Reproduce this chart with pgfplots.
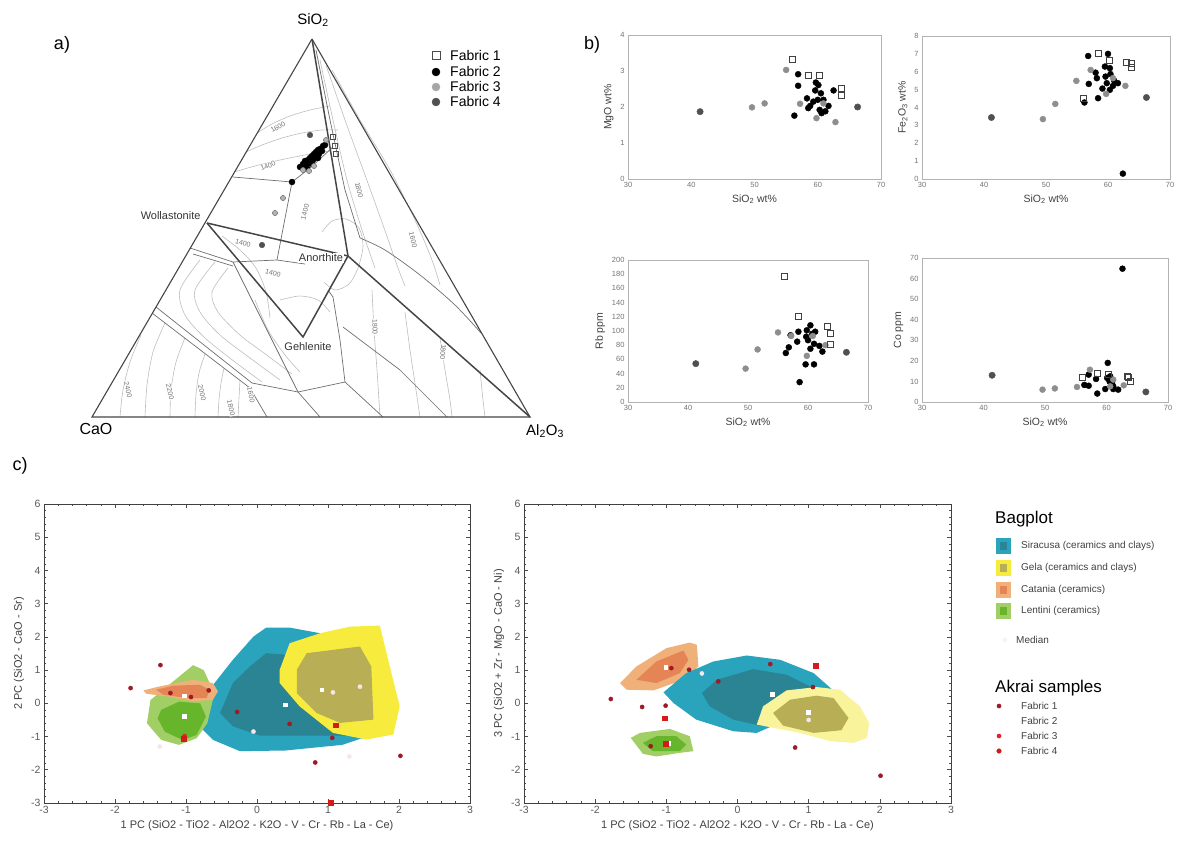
\documentclass[border=0pt]{standalone}
\usepackage{fontspec}
\setmainfont{Liberation Sans}
\usepackage{pgfplots}
\pgfplotsset{compat=1.18}
\definecolor{sirO}{HTML}{2AA3BD}
\definecolor{sirI}{HTML}{2B8494}
\definecolor{gelO}{HTML}{F7EC3E}
\definecolor{gelI}{HTML}{B8AE55}
\definecolor{gelO2}{HTML}{F9F39C}
\definecolor{catO}{HTML}{F0B07A}
\definecolor{catI}{HTML}{E58556}
\definecolor{lenO}{HTML}{A2CE66}
\definecolor{lenI}{HTML}{66B52B}
\definecolor{fabA}{HTML}{9E1B26}
\definecolor{fabC}{HTML}{E3202C}
\definecolor{fabD}{HTML}{D41A1A}
\definecolor{fabB}{HTML}{F6E6E6}
\definecolor{iso}{HTML}{BDBDBD}
\definecolor{bnd}{HTML}{6E6E6E}
\definecolor{thk}{HTML}{454545}
\definecolor{gthree}{HTML}{8E8E8E}
\definecolor{gfour}{HTML}{505050}
\newcommand{\fs}[1]{\fontsize{#1}{#1}\selectfont}
\pgfplotsset{
  bstyle/.style={scale only axis, xmin=30, xmax=70, xtick={30,40,50,60,70},
    axis line style={draw=black!30, line width=0.8pt}, tick style={draw=none},
    tick label style={font=\fs{7.5}, text=black!55},
    label style={font=\fs{10.5}, text=black!75},
    xlabel={SiO\textsubscript{2} wt\%},
    /pgf/number format/assume math mode=true, clip=false},
  cstyle/.style={scale only axis, xmin=-3, xmax=3, ymin=-3, ymax=6,
    xtick={-3,...,3}, ytick={-3,...,6},
    xticklabels={-3,-2,-1,0,1,2,3}, yticklabels={-3,-2,-1,0,1,2,3,4,5,6},
    minor x tick num=4, minor y tick num=4, tick align=inside,
    major tick length=4pt, minor tick length=2pt,
    axis line style={draw=black!75, line width=0.8pt},
    tick style={draw=black!70, line width=0.6pt},
    tick label style={font=\fs{10.5}, text=black!65},
    label style={font=\fs{11}, text=black!75},
    xlabel={1 PC (SiO2 - TiO2 - Al2O2 - K2O - V - Cr - Rb - La - Ce)},
    clip=false},
  fone/.style={only marks, mark=square, mark size=3pt, mark options={draw=black!75, fill=white, line width=0.7pt}},
  ftwo/.style={only marks, mark=*, mark size=3pt, mark options={draw=black, fill=black}},
  fthree/.style={only marks, mark=*, mark size=3pt, mark options={draw=gthree, fill=gthree}},
  ffour/.style={only marks, mark=*, mark size=3.2pt, mark options={draw=gfour, fill=gfour}},
  rA/.style={only marks, mark=*, mark size=2.1pt, mark options={draw=fabA, fill=fabA}},
  rB/.style={only marks, mark=*, mark size=2.1pt, mark options={draw=fabB, fill=fabB}},
  rD/.style={only marks, mark=square*, mark size=2.4pt, mark options={draw=fabD, fill=fabD}},
  med/.style={only marks, mark=square*, mark size=1.9pt, mark options={draw=white, fill=white}},
}
\begin{document}
\begin{tikzpicture}
\path[use as bounding box] (0,0) rectangle (1179pt,847pt);
% ================= canvas axis: panel a and legend of c =================
\begin{axis}[at={(0pt,0pt)}, anchor=south west, width=1179pt, height=847pt,
  scale only axis, xmin=0, xmax=1179, ymin=0, ymax=847, y dir=reverse,
  hide axis, clip=false]
% isotherms
\addplot[iso, smooth, line width=0.6pt] coordinates {(257,133)(272,124)(290,116)(310,110)(330,106)};
\addplot[iso, smooth, line width=0.6pt] coordinates {(246,152)(262,145)(282,138)(302,133)(322,130)(338,130)};
\addplot[iso, smooth, line width=0.6pt] coordinates {(234,172)(255,166)(280,160)(305,155)(330,151)};
\addplot[iso, smooth, line width=0.6pt] coordinates {(320,60)(333,120)(347,180)(362,230)(375,268)};
\addplot[iso, smooth, line width=0.6pt] coordinates {(326,65)(345,120)(365,175)(383,225)(398,268)(405,286)};
\addplot[iso, smooth, line width=0.6pt] coordinates {(332,70)(360,120)(390,170)(415,220)(432,260)(440,285)};
\addplot[iso, smooth, line width=0.6pt] coordinates {(372,290)(374,330)(377,370)(380,417)};
\addplot[iso, smooth, line width=0.6pt] coordinates {(405,312)(410,350)(416,390)(420,417)};
\addplot[iso, smooth, line width=0.6pt] coordinates {(440,338)(445,370)(450,400)(452,417)};
\addplot[iso, smooth, line width=0.6pt] coordinates {(480,370)(483,400)(485,417)};
\addplot[iso, smooth, line width=0.6pt] coordinates {(322,232)(332,221)(346,219)(359,228)(363,246)(358,268)(349,284)(335,290)(324,282)};
\addplot[iso, smooth, line width=0.6pt] coordinates {(200,260)(180,290)(185,315)(205,338)(235,362)(262,382)};
\addplot[iso, smooth, line width=0.6pt] coordinates {(215,262)(195,290)(200,312)(220,335)(250,358)(280,380)};
\addplot[iso, smooth, line width=0.6pt] coordinates {(228,268)(212,292)(218,312)(240,335)(268,356)(292,374)};
\addplot[iso, smooth, line width=0.6pt] coordinates {(120,417)(123,390)(130,362)(141,335)};
\addplot[iso, smooth, line width=0.6pt] coordinates {(145,417)(147,385)(153,352)(165,323)};
\addplot[iso, smooth, line width=0.6pt] coordinates {(170,417)(171,390)(176,362)(185,338)};
\addplot[iso, smooth, line width=0.6pt] coordinates {(195,417)(196,395)(199,373)(205,354)};
\addplot[iso, smooth, line width=0.6pt] coordinates {(218,417)(219,400)(221,383)(224,368)};
\addplot[iso, smooth, line width=0.6pt] coordinates {(238,417)(239,398)(240,380)};
\addplot[iso, smooth, line width=0.6pt] coordinates {(222,236)(240,250)(256,268)(266,292)(270,318)};
\addplot[iso, smooth, line width=0.6pt] coordinates {(280,300)(300,296)(318,300)(330,312)};
\addplot[iso, smooth, line width=0.6pt] coordinates {(255,300)(268,330)(285,355)(300,372)};
% field boundaries
\addplot[bnd, line width=0.7pt] coordinates {(233,177)(292,182)(277,260)};
\addplot[bnd, line width=0.7pt] coordinates {(292,182)(310,168)(333,147)};
\addplot[bnd, line width=0.7pt] coordinates {(190,248)(233,262)(277,260)(305,264)};
\addplot[bnd, line width=0.7pt] coordinates {(193,254)(233,266)};
\addplot[bnd, line width=0.7pt] coordinates {(233,262)(298,392)};
\addplot[bnd, line width=0.7pt] coordinates {(156,307)(252,383)(298,392)(345,382)};
\addplot[bnd, line width=0.7pt] coordinates {(152,313)(250,388)(267,417)};
\addplot[bnd, line width=0.7pt] coordinates {(298,392)(320,417)};
\addplot[bnd, line width=0.7pt] coordinates {(316,50)(330,120)(345,190)(360,238)};
\addplot[bnd, smooth, line width=0.7pt] coordinates {(360,238)(385,250)(420,275)(455,305)(481,333)};
\addplot[bnd, line width=0.7pt] coordinates {(333,297)(340,340)(345,382)(383,417)};
\addplot[bnd, line width=0.7pt] coordinates {(343,327)(400,370)(447,417)};
\addplot[bnd, line width=0.7pt] coordinates {(328,290)(333,297)};
% thick compatibility lines and triangle
\addplot[thk, line width=1.5pt] coordinates {(207,223)(348,256)};
\addplot[thk, line width=1.5pt] coordinates {(207,223)(303,337)(348,256)};
\addplot[thk, line width=1.5pt] coordinates {(312,39)(348,256)(530,417)};
\addplot[thk, line width=1.1pt] coordinates {(312,39)(92,417)(530,417)(312,39)};
% isotherm labels
\begin{scope}[every node/.style={font=\fs{7}, text=black!55, fill=white, inner sep=0.5pt}]
\node[rotate=30] at (axis cs:278,127) {1600};
\node[rotate=20] at (axis cs:268,166) {1400};
\node[rotate=76] at (axis cs:305,212) {1400};
\node[rotate=-15] at (axis cs:243,243) {1400};
\node[rotate=-15] at (axis cs:273,273) {1400};
\node[rotate=-76] at (axis cs:359,190) {1800};
\node[rotate=-77] at (axis cs:413,240) {1600};
\node[rotate=-88] at (axis cs:375,327) {1800};
\node[rotate=-95] at (axis cs:443,352) {1800};
\node[rotate=-77] at (axis cs:128,390) {2400};
\node[rotate=-77] at (axis cs:170,392) {2200};
\node[rotate=-77] at (axis cs:202,393) {2000};
\node[rotate=-77] at (axis cs:231,408) {1800};
\node[rotate=-78] at (axis cs:251,395) {1600};
\end{scope}
% phase labels
\node[font=\fs{11}, text=black!80, anchor=east] at (axis cs:204,216) {Wollastonite};
\node[font=\fs{11}, text=black!80, fill=white, inner sep=0.5pt] at (axis cs:321,258) {Anorthite};
\node[font=\fs{11}, text=black!80, fill=white, inner sep=0.5pt] at (axis cs:308,347) {Gehlenite};
\node[font=\fs{15}] at (axis cs:313,20) {SiO\textsubscript{2}};
\node[font=\fs{16}] at (axis cs:96,429) {CaO};
\node[font=\fs{15}] at (axis cs:545,431) {Al\textsubscript{2}O\textsubscript{3}};
\node[font=\fs{18}] at (axis cs:62,45) {a)};
\node[font=\fs{18}] at (axis cs:592,45) {b)};
\node[font=\fs{18}] at (axis cs:20,466) {c)};
% ternary samples
\addplot[only marks, mark=*, mark size=3pt, mark options={draw=black, fill=black}] coordinates {
(292,182)(300,167)(303,164)(305,161)(306,166)(308,160)(309,163)(310,158)(311,162)(312,156)(313,160)(314,154)(315,158)(316,152)(317,156)(318,150)(319,154)(320,149)(322,151)(323,146)(307,168)(312,164)(318,158)(325,145)};
\addplot[only marks, mark=*, mark size=2.6pt, mark options={draw=black!55, fill=black!30, line width=0.5pt}] coordinates {(326,140)(314,166)(309,171)(303,170)(283,198)(275,213)};
\addplot[only marks, mark=square, mark size=2.6pt, mark options={draw=black!70, fill=white, line width=0.6pt}] coordinates {(333,137)(335,146)(336,154)};
\addplot[only marks, mark=*, mark size=2.8pt, mark options={draw=gfour, fill=gfour}] coordinates {(310,135)(262,245)};
% legend of panel a
\addplot[only marks, mark=square, mark size=3.8pt, mark options={draw=black!70, fill=white, line width=0.6pt}] coordinates {(436,55)};
\addplot[only marks, mark=*, mark size=4pt, mark options={draw=black, fill=black}] coordinates {(436,72)};
\addplot[only marks, mark=*, mark size=4pt, mark options={draw=black!35, fill=black!35}] coordinates {(436,87)};
\addplot[only marks, mark=*, mark size=4pt, mark options={draw=gfour, fill=gfour}] coordinates {(436,102)};
\begin{scope}[every node/.style={font=\fs{14}, anchor=west, inner sep=0pt}]
\node at (axis cs:450,55) {Fabric 1};
\node at (axis cs:450,71) {Fabric 2};
\node at (axis cs:450,86) {Fabric 3};
\node at (axis cs:450,101) {Fabric 4};
\end{scope}
% legend of panel c
\node[font=\fs{17}, anchor=west, inner sep=0pt] at (axis cs:995,519) {Bagplot};
\addplot[fill=sirO, draw=none] coordinates {(996,538)(1011,538)(1011,554)(996,554)};
\addplot[fill=sirI, draw=none] coordinates {(1000,542)(1007,542)(1007,550)(1000,550)};
\addplot[fill=gelO, draw=none] coordinates {(996,560)(1011,560)(1011,576)(996,576)};
\addplot[fill=gelI, draw=none] coordinates {(1000,564)(1007,564)(1007,572)(1000,572)};
\addplot[fill=catO, draw=none] coordinates {(996,582)(1011,582)(1011,598)(996,598)};
\addplot[fill=catI, draw=none] coordinates {(1000,586)(1007,586)(1007,594)(1000,594)};
\addplot[fill=lenO, draw=none] coordinates {(996,603)(1011,603)(1011,619)(996,619)};
\addplot[fill=lenI, draw=none] coordinates {(1000,607)(1007,607)(1007,615)(1000,615)};
\addplot[only marks, mark=*, mark size=1.8pt, mark options={draw=black!12, fill=white}] coordinates {(1005,640)};
\begin{scope}[every node/.style={font=\fs{10}, anchor=west, inner sep=0pt, text=black!75}]
\node at (axis cs:1021,546) {Siracusa (ceramics and clays)};
\node at (axis cs:1021,568) {Gela (ceramics and clays)};
\node at (axis cs:1021,590) {Catania (ceramics)};
\node at (axis cs:1021,611) {Lentini (ceramics)};
\node at (axis cs:1016,640) {Median};
\end{scope}
\node[font=\fs{17}, anchor=west, inner sep=0pt] at (axis cs:995,688) {Akrai samples};
\addplot[rA] coordinates {(999,706)};
\addplot[only marks, mark=*, mark size=2.1pt, mark options={draw=fabC, fill=fabC}] coordinates {(999,736)};
\addplot[only marks, mark=*, mark size=2.3pt, mark options={draw=fabD, fill=fabD}] coordinates {(999,751)};
\begin{scope}[every node/.style={font=\fs{10}, anchor=west, inner sep=0pt, text=black!75}]
\node at (axis cs:1021,706) {Fabric 1};
\node at (axis cs:1021,721) {Fabric 2};
\node at (axis cs:1021,736) {Fabric 3};
\node at (axis cs:1021,751) {Fabric 4};
\end{scope}
\end{axis}
% ================= panel b =================
\begin{axis}[bstyle, at={(628pt,668pt)}, anchor=south west, width=253pt, height=144pt,
  ymin=0, ymax=4, ytick={0,1,2,3,4}, ylabel={MgO wt\%}]
\addplot[ftwo] coordinates {(56.9,2.91)(56.9,2.59)(56.3,1.76)(58.3,2.24)(58.5,1.97)(59.6,2.46)(60.1,2.61)(60.0,2.2)(60.3,1.92)(60.9,2.2)(61.2,1.88)(61.7,2.03)(62.5,2.46)(59.3,2.15)(60.5,2.38)(58.8,2.03)(60.6,1.83)(59.7,2.68)};
\addplot[fthree] coordinates {(49.6,1.99)(51.6,2.10)(55.0,3.03)(57.2,2.09)(59.8,1.69)(62.8,1.58)(60.9,2.1)};
\addplot[ffour] coordinates {(41.4,1.87)(66.3,2.0)};
\addplot[fone] coordinates {(56.0,3.32)(58.5,2.89)(60.2,2.89)(63.8,2.52)(63.8,2.31)};
\end{axis}
\begin{axis}[bstyle, at={(922pt,668pt)}, anchor=south west, width=248pt, height=143pt,
  ymin=0, ymax=8, ytick={0,...,8}, ylabel={Fe\textsubscript{2}O\textsubscript{3} wt\%}]
\addplot[ftwo] coordinates {(56.8,6.88)(56.9,5.32)(56.2,4.28)(58.4,4.52)(58.0,5.95)(58.2,5.64)(59.5,6.29)(60.0,7.0)(60.3,6.2)(59.6,5.73)(59.8,5.36)(60.8,5.21)(61.6,5.36)(60.3,4.99)(59.1,5.06)(62.4,0.30)(60.4,5.87)(61.0,5.5)};
\addplot[fthree] coordinates {(49.5,3.35)(51.5,4.2)(54.9,5.49)(57.2,6.1)(59.7,4.76)(62.8,5.21)(60.8,5.64)};
\addplot[ffour] coordinates {(41.2,3.44)(66.2,4.56)};
\addplot[fone] coordinates {(56.0,4.5)(58.4,7.03)(60.2,6.66)(63.0,6.51)(63.7,6.25)(63.7,6.47)};
\end{axis}
\begin{axis}[bstyle, at={(628pt,445pt)}, anchor=south west, width=240pt, height=142pt,
  ymin=0, ymax=200, ytick={0,20,...,200}, ylabel={Rb ppm}]
\addplot[ftwo] coordinates {(56.3,69)(56.8,77)(57.1,94)(58.4,99)(58.2,85)(58.6,28)(59.6,53)(61.0,53)(59.8,101)(60.4,108)(60.7,96)(60.0,87)(60.4,75)(61.2,99)(61.9,79)(62.4,71)(61.0,82)(59.7,92)};
\addplot[fthree] coordinates {(49.6,47)(51.6,74)(55.0,98)(57.2,93)(59.8,65)(62.9,80)(60.8,93)};
\addplot[ffour] coordinates {(41.3,54)(66.4,70)};
\addplot[fone] coordinates {(56.0,177)(58.4,121)(63.2,107)(63.7,96)(63.7,81)};
\end{axis}
\begin{axis}[bstyle, at={(922pt,445pt)}, anchor=south west, width=246pt, height=144pt,
  ymin=0, ymax=70, ytick={0,10,...,70}, ylabel={Co ppm}]
\addplot[ftwo] coordinates {(62.6,64.8)(60.2,19)(56.4,8.3)(57.1,7.9)(57.1,13.3)(58.3,11.2)(58.5,4.1)(59.8,6.3)(60.1,11.7)(60.6,12.5)(60.9,9.2)(61.1,6.3)(61.9,6)(61.1,7.6)(60.5,10)};
\addplot[fthree] coordinates {(49.6,6)(51.6,6.6)(55.2,7.3)(57.3,15.7)(60.6,7.6)(62.8,8.1)(61.1,10.9)};
\addplot[ffour] coordinates {(41.4,13)(66.4,4.9)};
\addplot[fone] coordinates {(56.1,11.8)(58.5,14.1)(60.3,13.3)(63.4,12.5)(63.9,10.0)(63.6,12.2)};
\end{axis}
% ================= panel c =================
\begin{axis}[cstyle, at={(44pt,44pt)}, anchor=south west, width=426pt, height=299pt,
  ylabel={2 PC (SiO2 - CaO - Sr)}]
\addplot[fill=sirO, draw=none] coordinates {(-0.81,-0.69)(-0.62,0.55)(-0.34,1.31)(-0.05,2.01)(0.13,2.28)(0.46,2.28)(0.89,2.11)(1.4,1.5)(1.62,-0.95)(1.2,-1.25)(0.4,-1.42)(-0.24,-1.44)(-0.62,-1.1)};
\addplot[fill=sirI, draw=none] coordinates {(-0.52,-0.29)(-0.34,0.61)(-0.1,1.11)(0.13,1.51)(0.42,1.46)(0.79,1.11)(1.2,0.5)(1.31,-0.97)(0.04,-0.97)(-0.34,-0.69)};
\addplot[fill=gelO, draw=none] coordinates {(0.32,1.01)(0.46,1.81)(0.89,2.11)(1.31,2.31)(1.73,2.34)(1.87,1.11)(2.01,-0.09)(1.92,-0.94)(1.54,-1.09)(1.07,-0.89)(0.60,-0.09)(0.32,0.61)};
\addplot[fill=gelI, draw=none] coordinates {(0.56,1.01)(0.70,1.51)(1.07,1.61)(1.45,1.71)(1.61,1.11)(1.64,-0.49)(1.17,-0.59)(0.84,-0.29)(0.56,0.31)};
\addplot[fill=lenO, draw=none] coordinates {(-1.5,0.1)(-0.9,1.15)(-0.75,1.0)(-0.6,0.3)(-0.7,-0.6)(-0.85,-1.05)(-1.1,-1.25)(-1.35,-1.1)(-1.55,-0.6)};
\addplot[fill=lenI, draw=none] coordinates {(-1.35,-0.2)(-1.1,0.05)(-0.8,0.0)(-0.72,-0.4)(-0.85,-0.95)(-1.05,-1.1)(-1.3,-0.85)(-1.4,-0.45)};
\addplot[fill=catO, draw=none] coordinates {(-1.60,0.39)(-1.37,0.51)(-0.90,0.71)(-0.62,0.61)(-0.55,0.36)(-0.62,0.11)(-0.9,0.06)(-1.27,0.21)(-1.56,0.29)};
\addplot[fill=catI, draw=none] coordinates {(-1.42,0.41)(-1.18,0.53)(-0.81,0.56)(-0.67,0.41)(-0.71,0.16)(-0.99,0.16)(-1.32,0.26)};
\addplot[med] coordinates {(-1.02,0.23)(-1.02,-0.39)(0.40,-0.04)(0.91,0.41)};
\addplot[rB] coordinates {(-1.37,-1.3)(1.3,-1.6)(1.45,0.5)(1.07,0.33)(-0.05,-0.85)};
\addplot[rA] coordinates {(-1.36,1.15)(-1.78,0.46)(-1.22,0.31)(-0.93,0.19)(-0.68,0.39)(-0.28,-0.26)(0.46,-0.62)(1.06,-1.04)(0.82,-1.78)(2.02,-1.58)};
\addplot[only marks, mark=*, mark size=2.2pt, mark options={draw=fabC, fill=fabC}] coordinates {(-1.02,-0.99)};
\addplot[rD] coordinates {(1.11,-0.66)(1.04,-2.98)(-1.03,-1.07)};
\end{axis}
\begin{axis}[cstyle, at={(524pt,44pt)}, anchor=south west, width=427pt, height=299pt,
  ylabel={3 PC (SiO2 + Zr - MgO - CaO - Ni)}]
\addplot[fill=catO, draw=none] coordinates {(-1.65,0.61)(-1.42,1.11)(-1.0,1.66)(-0.67,1.83)(-0.57,1.76)(-0.55,1.11)(-0.76,0.71)(-1.18,0.39)(-1.56,0.41)};
\addplot[fill=catI, draw=none] coordinates {(-1.42,0.71)(-1.14,1.26)(-0.76,1.59)(-0.69,1.31)(-0.81,0.91)(-1.14,0.61)};
\addplot[fill=sirO, draw=none] coordinates {(-1.04,0.33)(-0.72,0.91)(-0.34,1.26)(0.13,1.44)(0.60,1.31)(1.07,0.91)(1.44,0.21)(0.27,-0.89)(-0.06,-0.84)(-0.58,-0.49)(-0.9,0.01)};
\addplot[fill=sirI, draw=none] coordinates {(-0.5,0.31)(-0.29,0.71)(0.22,1.03)(0.69,0.86)(1.11,0.41)(0.9,-0.2)(0.36,-0.69)(-0.06,-0.49)(-0.39,-0.09)};
\addplot[fill=gelO2, draw=none] coordinates {(0.27,-0.64)(0.36,-0.09)(0.69,0.39)(1.11,0.49)(1.44,0.41)(1.72,-0.09)(1.85,-0.59)(1.82,-1.04)(1.63,-1.19)(1.30,-1.14)(0.88,-0.89)};
\addplot[fill=gelI, draw=none] coordinates {(0.50,-0.29)(0.74,0.11)(1.11,0.23)(1.35,0.16)(1.56,-0.44)(1.46,-0.81)(1.07,-0.89)(0.64,-0.67)};
\addplot[fill=lenO, draw=none] coordinates {(-1.50,-1.04)(-1.37,-0.89)(-0.95,-0.77)(-0.67,-0.99)(-0.62,-1.44)(-0.81,-1.49)(-1.14,-1.6)(-1.33,-1.52)};
\addplot[fill=lenI, draw=none] coordinates {(-1.33,-1.19)(-1.14,-0.99)(-0.86,-0.99)(-0.72,-1.24)(-0.81,-1.44)(-1.19,-1.44)};
\addplot[med] coordinates {(-1.01,1.09)(0.49,0.28)(0.99,-0.26)(-0.97,-1.19)};
\addplot[rB] coordinates {(1.0,-0.5)(-0.5,0.9)};
\addplot[rA] coordinates {(-0.93,1.06)(-0.68,1.01)(-1.78,0.13)(-1.34,-0.11)(-1.01,-0.07)(-0.27,0.66)(0.46,1.18)(1.06,0.49)(0.81,-1.33)(2.01,-2.18)(-1.22,-1.29)};
\addplot[rD] coordinates {(-1.02,-0.45)(1.10,1.13)(-1.01,-1.21)};
\end{axis}
\end{tikzpicture}
\end{document}
